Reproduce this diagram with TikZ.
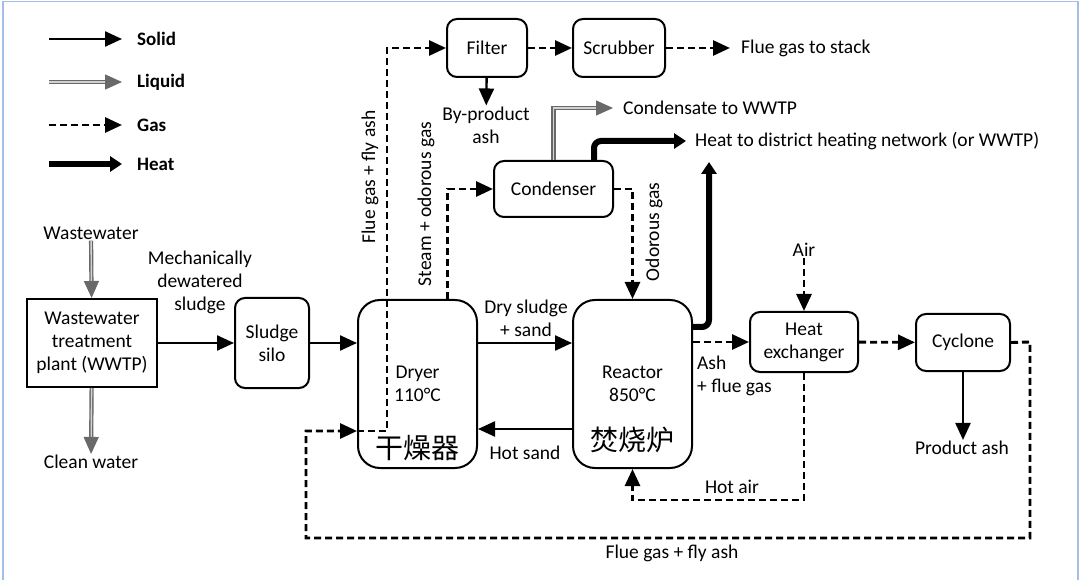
\documentclass[tikz,border=0pt]{standalone}
\usepackage{fontspec}
\setmainfont{Carlito}
\newfontfamily\cjkfont{Noto Sans CJK SC}
\usepackage{tikz}
\usetikzlibrary{arrows.meta,positioning,calc}
\definecolor{frameblue}{RGB}{165,190,232}
\definecolor{liquidgray}{RGB}{105,105,105}

\begin{document}
\begin{tikzpicture}[
    x=1pt, y=-1pt,
    font=\fontsize{19.5}{23}\selectfont,
    procbox/.style={draw, rectangle, rounded corners=10pt, line width=2pt, align=center, inner sep=2pt},
    vessel/.style={procbox, rounded corners=22pt, minimum width=119pt, minimum height=168pt},
    plantbox/.style={draw, rectangle, line width=2pt, align=center, minimum width=130pt, minimum height=88pt},
    tag/.style={align=center, inner sep=1pt},
    cjktag/.style={inner sep=0pt, font=\cjkfont\fontsize{28}{30}\selectfont},
    legendtag/.style={anchor=west, inner sep=0pt, font=\fontsize{19}{23}\selectfont\bfseries},
    solidflow/.style={-{Triangle[length=17pt,width=15pt]}, line width=2.4pt},
    liquidflow/.style={-{Triangle[length=17pt,width=15pt,fill=liquidgray]}, draw=liquidgray, double=gray!35, double distance=1.4pt, line width=1.4pt},
    gasflow/.style={-{Triangle[length=17pt,width=15pt]}, line width=2.9pt, dash pattern=on 7pt off 4pt},
    heatflow/.style={-{Triangle[length=12pt,width=15pt]}, line width=6pt, rounded corners=7pt}
]
\useasboundingbox (0,0) rectangle (1080,580);
\draw[frameblue, line width=1.5pt] (3,580) -- (3,1.5) -- (1078,1.5) -- (1078,580);

% Legend
\foreach \ly/\lname/\lstyle in {39/Solid/solidflow, 82/Liquid/liquidflow, 125/Gas/gasflow, 164/Heat/heatflow} {
    \coordinate (leg\lname a) at (49,\ly);
    \coordinate (leg\lname b) at (122,\ly);
    \draw[\lstyle] (leg\lname a) -- (leg\lname b);
    \node[legendtag] at (137,\ly) {\lname};
}

% Units
\node[plantbox] (wwtp) at (92,343) {Wastewater\\treatment\\plant (WWTP)};
\node[procbox, minimum width=74pt, minimum height=90pt] (silo) at (272,343) {Sludge\\silo};
\node[vessel] (dryer) at (417.5,384) {Dryer\\110°C};
\node[vessel] (reactor) at (632.5,384) {Reactor\\850°C};
\node[procbox, minimum width=80pt, minimum height=58pt] (filter) at (487,48) {Filter};
\node[procbox, minimum width=92pt, minimum height=58pt] (scrubber) at (619,48) {Scrubber};
\node[procbox, minimum width=119pt, minimum height=56pt] (condenser) at (553.5,189) {Condenser};
\node[procbox, minimum width=108pt, minimum height=60pt] (hx) at (804,342) {Heat\\exchanger};
\node[procbox, minimum width=94pt, minimum height=57pt] (cyclone) at (963,342.5) {Cyclone};

\node[cjktag] (dryer_cn) at (417,448) {干燥器};
\node[cjktag] (reactor_cn) at (632,440) {焚烧炉};

% Stream labels
\node[tag] (wastewater) at (91,233) {Wastewater};
\node[tag] (cleanwater) at (91,462) {Clean water};
\node[tag] (mech) at (200,282) {Mechanically\\dewatered\\sludge};
\node[tag] (drysludge) at (526,318) {Dry sludge\\+ sand};
\node[tag] (hotsand) at (525,453) {Hot sand};
\node[tag, anchor=west, align=left] (ashgas) at (696,376) {Ash\\+ flue gas};
\node[tag] (hotair) at (732,487) {Hot air};
\node[tag] (fluebottom) at (672,553) {Flue gas + fly ash};
\node[tag] (productash) at (962,448) {Product ash};
\node[tag] (air) at (804,250) {Air};
\node[tag] (byproduct) at (486,125) {By-product\\ash};
\node[tag, anchor=west] (stack) at (740,48) {Flue gas to stack};
\node[tag, anchor=west] (condensate) at (622,108) {Condensate to WWTP};
\node[tag, anchor=west] (district) at (694,141) {Heat to district heating network (or WWTP)};
\node[tag, rotate=90] (fluetag) at (370,177) {Flue gas + fly ash};
\node[tag, rotate=90] (steamtag) at (426,204) {Steam + odorous gas};
\node[tag, rotate=90] (odortag) at (654,232) {Odorous gas};

\coordinate (heattip) at (709,162);

% Liquid
\draw[liquidflow] (wastewater) -- (wwtp);
\draw[liquidflow] (wwtp) -- (cleanwater);
\draw[liquidflow, shorten >=9pt] (condenser.north) |- (condensate.west);

% Solid
\draw[solidflow] (wwtp) -- (silo);
\draw[solidflow] (silo.east) -- (silo.east -| dryer.west);
\draw[solidflow] (silo.east -| dryer.east) -- (silo.east -| reactor.west);
\draw[solidflow] ([yshift=-45pt]reactor.west) -- ([yshift=-45pt]dryer.east);
\draw[solidflow] (filter) -- (byproduct);
\draw[solidflow] (cyclone.south) -- (cyclone.south |- productash.north);

% Gas
\draw[gasflow] (reactor.east |- hx.west) -- (hx.west);
\draw[gasflow] (hx) -- (cyclone);
\draw[gasflow] (cyclone.east) -- (1030,342) -- (1030,538) -- (306,538) |- ([yshift=-47pt]dryer.west);
\draw[gasflow] ([yshift=-47pt]dryer.west) -- (387,431) -- (387,48) -- (filter.west);
\draw[gasflow] (filter) -- (scrubber);
\draw[gasflow, shorten >=10pt] (scrubber) -- (stack);
\draw[gasflow] ([xshift=30pt]dryer.north) |- (condenser.west);
\draw[gasflow] (condenser.east) -| (reactor.north);
\draw[gasflow] (air) -- (hx);
\draw[gasflow] (hx.south) -- (804,500) -| (reactor.south);

% Heat
\draw[heatflow, shorten >=8pt] ([xshift=40.5pt]condenser.north) |- (district.west);
\draw[heatflow] ([yshift=57pt]reactor.east) -| (heattip);

\end{tikzpicture}
\end{document}
